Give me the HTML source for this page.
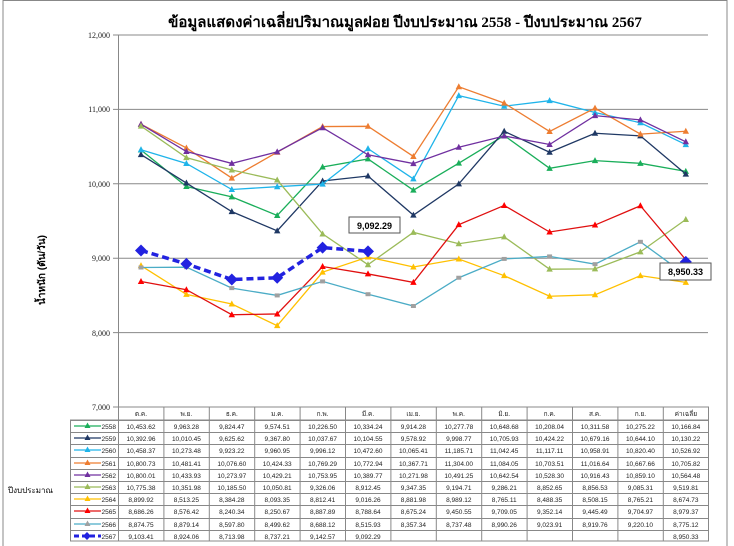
<!DOCTYPE html>
<html><head><meta charset="utf-8"><style>
body{margin:0;background:#fff;width:734px;height:546px;overflow:hidden;font-family:"Liberation Sans",sans-serif}
svg{position:absolute;left:0;top:0}
</style></head><body>
<svg id="s" width="734" height="546" xmlns="http://www.w3.org/2000/svg" font-family="Liberation Sans, sans-serif">
<rect x="3" y="0.5" width="724" height="560" fill="none" stroke="#888" stroke-width="1"/>
<text x="405" y="27" font-family="Liberation Serif, serif" font-weight="bold" font-size="15" text-anchor="middle">ข้อมูลแสดงค่าเฉลี่ยปริมาณมูลฝอย ปีงบประมาณ 2558 - ปีงบประมาณ 2567</text>
<g stroke="#888" stroke-width="1">
<line x1="113" y1="35" x2="708" y2="35"/><line x1="113" y1="109.4" x2="708" y2="109.4"/>
<line x1="113" y1="183.8" x2="708" y2="183.8"/><line x1="113" y1="258.2" x2="708" y2="258.2"/>
<line x1="113" y1="332.6" x2="708" y2="332.6"/><line x1="113" y1="407" x2="708" y2="407"/>
<line x1="118.5" y1="35" x2="118.5" y2="407"/>
</g>
<g font-family="Liberation Serif, serif" font-size="8" text-anchor="end" fill="#222">
<text x="110" y="38">12,000</text><text x="110" y="112">11,000</text><text x="110" y="187">10,000</text>
<text x="110" y="261">9,000</text><text x="110" y="336">8,000</text><text x="110" y="410">7,000</text>
</g>
<text transform="translate(45,270) rotate(-90)" font-size="10" font-weight="bold" text-anchor="middle">น้ำหนัก (ตัน/วัน)</text>
<text x="8" y="493" font-size="8">ปีงบประมาณ</text>
<g id="lines"></g>
<g id="tbl"></g>
<rect x="349" y="217" width="51" height="16" fill="#fff" stroke="#555"/>
<text x="374.5" y="229" font-size="9" font-weight="bold" text-anchor="middle">9,092.29</text>
<rect x="660" y="263" width="51" height="17" fill="#fff" stroke="#555"/>
<text x="685.5" y="275" font-size="9" font-weight="bold" text-anchor="middle">8,950.33</text>
<g font-size="6.5" text-anchor="middle" fill="#222" id="txt">
<text x="141" y="416">ต.ค.</text><text x="186.4" y="416">พ.ย.</text><text x="231.8" y="416">ธ.ค.</text><text x="277.2" y="416">ม.ค.</text><text x="322.6" y="416">ก.พ.</text><text x="368" y="416">มี.ค.</text><text x="413.4" y="416">เม.ย.</text><text x="458.8" y="416">พ.ค.</text><text x="504.2" y="416">มิ.ย.</text><text x="549.6" y="416">ก.ค.</text><text x="595" y="416">ส.ค.</text><text x="640.4" y="416">ก.ย.</text><text x="685.8" y="416">ค่าเฉลี่ย</text>
</g>
<g font-size="6.5" fill="#222" id="rowtxt"></g>
</svg>
<div id="d" style="display:none">
<p>2558|10,453.62|9,963.28|9,824.47|9,574.51|10,226.50|10,334.24|9,914.28|10,277.78|10,648.68|10,208.04|10,311.58|10,275.22|10,166.84</p>
<p>2559|10,392.96|10,010.45|9,625.62|9,367.80|10,037.67|10,104.55|9,578.92|9,998.77|10,705.93|10,424.22|10,679.16|10,644.10|10,130.22</p>
<p>2560|10,458.37|10,273.48|9,923.22|9,960.95|9,996.12|10,472.60|10,065.41|11,185.71|11,042.45|11,117.11|10,958.91|10,820.40|10,526.92</p>
<p>2561|10,800.73|10,481.41|10,076.60|10,424.33|10,769.29|10,772.94|10,367.71|11,304.00|11,084.05|10,703.51|11,016.64|10,667.66|10,705.82</p>
<p>2562|10,800.01|10,433.93|10,273.97|10,429.21|10,753.95|10,389.77|10,271.98|10,491.25|10,642.54|10,528.30|10,916.43|10,859.10|10,564.48</p>
<p>2563|10,775.38|10,351.98|10,185.50|10,050.81|9,326.06|8,912.45|9,347.35|9,194.71|9,286.21|8,852.65|8,856.53|9,085.31|9,519.81</p>
<p>2564|8,899.92|8,513.25|8,384.28|8,093.35|8,812.41|9,016.26|8,881.98|8,989.12|8,765.11|8,488.35|8,508.15|8,765.21|8,674.73</p>
<p>2565|8,686.26|8,576.42|8,240.34|8,250.67|8,887.89|8,788.64|8,675.24|9,450.55|9,709.05|9,352.14|9,445.49|9,704.97|8,979.37</p>
<p>2566|8,874.75|8,879.14|8,597.80|8,499.62|8,688.12|8,515.93|8,357.34|8,737.48|8,990.26|9,023.91|8,919.76|9,220.10|8,775.12</p>
<p>2567|9,103.41|8,924.06|8,713.98|8,737.21|9,142.57|9,092.29|||||||8,950.33</p>
</div>
<script>
var ns="http://www.w3.org/2000/svg";
function el(t,a,p){var e=document.createElementNS(ns,t);for(var k in a)e.setAttribute(k,a[k]);p.appendChild(e);return e;}
var cols=["#1aae5a","#1f3864","#1fb4ea","#ed7d31","#7030a0","#9bbb59","#ffc000","#e01010","#4bacc6","#2222e0"];
var mk=["#1aae5a","#1f3864","#1fb4ea","#ed7d31","#7030a0","#9bbb59","#ffc000","#ff0000","#a0a0a0","#2222e0"];
var rows=[].map.call(document.querySelectorAll('#d p'),function(p){return p.textContent.split('|');});
var L=document.getElementById('lines'),T=document.getElementById('tbl');
function X(i){return 141+i*45.4;}function Y(v){return 35+(12000-v)*0.0744;}
rows.forEach(function(r,s){
 var pts=[];for(var i=1;i<=13;i++){if(r[i]){pts.push([X(i-1),Y(parseFloat(r[i].replace(/,/g,''))),i]);}}
 var lp=pts.filter(function(p){return s<9||p[2]<=6;});
 el('polyline',{points:lp.map(function(p){return p[0]+','+p[1]}).join(' '),fill:'none',stroke:cols[s],'stroke-width':s==9?3.5:1.3,'stroke-dasharray':s==9?'7,4':''},L);
 pts.forEach(function(p){
  if(s==9)el('polygon',{points:(p[0])+','+(p[1]-6)+' '+(p[0]+6)+','+p[1]+' '+p[0]+','+(p[1]+6)+' '+(p[0]-6)+','+p[1],fill:mk[s]},L);
  else if(s==8)el('rect',{x:p[0]-2.5,y:p[1]-2,width:5,height:4,fill:mk[s]},L);
  else el('polygon',{points:p[0]+','+(p[1]-3.5)+' '+(p[0]+3.2)+','+(p[1]+2.5)+' '+(p[0]-3.2)+','+(p[1]+2.5),fill:mk[s]},L);
 });
});
var tops=[407,420,432,444,457,469,481,493,505,518,530,541];
var g=T;
el('rect',{x:70.5,y:420,width:638,height:121,fill:'none',stroke:'#888'},g);
el('rect',{x:118.5,y:407,width:590,height:134,fill:'none',stroke:'#888'},g);
for(var i=1;i<tops.length-1;i++)el('line',{x1:70.5,y1:tops[i]+.5,x2:708.5,y2:tops[i]+.5,stroke:'#888'},g);
for(var c=1;c<13;c++)el('line',{x1:118.5+c*45.4,y1:407,x2:118.5+c*45.4,y2:541,stroke:'#888'},g);
var RT=document.getElementById('rowtxt');
rows.forEach(function(r,s){
 var y=tops[s+1]+9;
 el('line',{x1:74,y1:y-3,x2:101,y2:y-3,stroke:cols[s],'stroke-width':s==9?3:1.3,'stroke-dasharray':s==9?'5,3':''},g);
 if(s==9)el('polygon',{points:'87,'+(y-7)+' 91,'+(y-3)+' 87,'+(y+1)+' 83,'+(y-3),fill:mk[s]},g);
 else el('polygon',{points:'87.5,'+(y-6.5)+' 90.5,'+(y-1)+' 84.5,'+(y-1),fill:mk[s]},g);
 var t=el('text',{x:116,y:y,'text-anchor':'end'},RT);t.textContent=r[0];
 for(var i=1;i<=13;i++){if(r[i]){var t2=el('text',{x:141+(i-1)*45.4,y:y,'text-anchor':'middle'},RT);t2.textContent=r[i];}}
});
</script>
</body></html>
